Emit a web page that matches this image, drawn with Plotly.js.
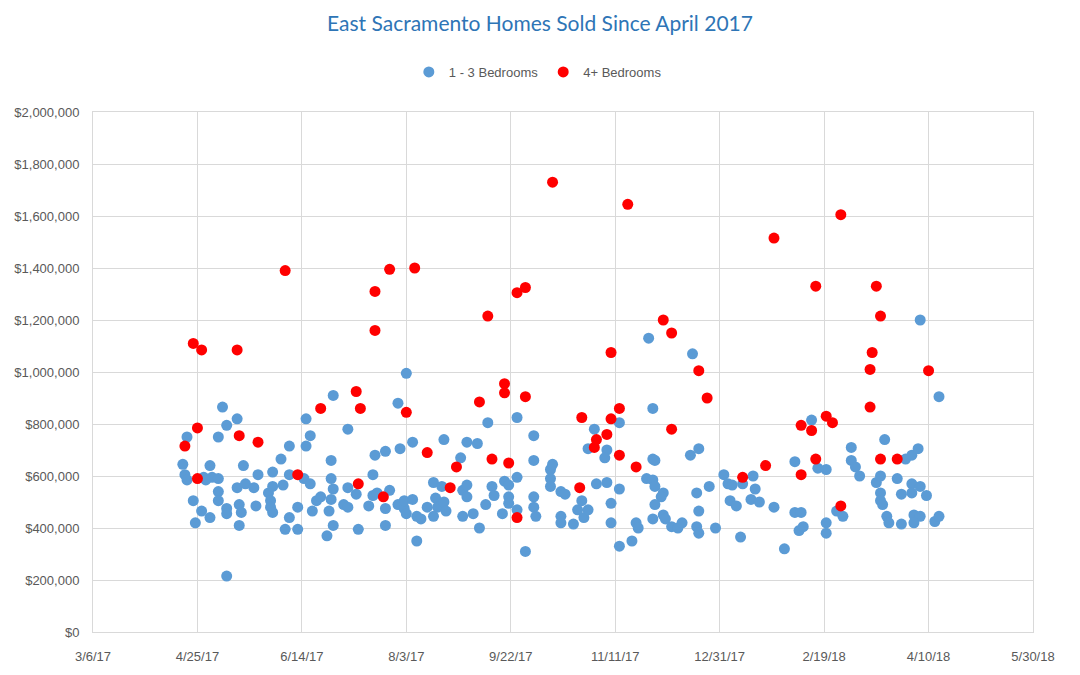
<!DOCTYPE html>
<html>
<head>
<meta charset="utf-8">
<script src="https://cdn.plot.ly/plotly-3.0.1.min.js"></script>
<style>
  html, body { margin: 0; padding: 0; background: #ffffff; }
  #chart { width: 1080px; height: 675px; }
</style>
</head>
<body>
<div id="chart"></div>
<script>
// ---- Data ----
const seriesNames = ["1 - 3 Bedrooms", "4+ Bedrooms"];

const smallDates = [
'2017-04-18','2017-04-19','2017-04-20','2017-04-20','2017-04-23','2017-04-24','2017-04-27','2017-04-28','2017-04-29','2017-05-01',
'2017-05-01','2017-05-02','2017-05-05','2017-05-05','2017-05-05','2017-05-05','2017-05-07','2017-05-09','2017-05-09','2017-05-09',
'2017-05-09','2017-05-14','2017-05-14','2017-05-15','2017-05-15','2017-05-16','2017-05-17','2017-05-18','2017-05-22','2017-05-23',
'2017-05-24','2017-05-29','2017-05-30','2017-05-30','2017-05-31','2017-05-31','2017-05-31','2017-06-04','2017-06-05','2017-06-06',
'2017-06-08','2017-06-08','2017-06-08','2017-06-12','2017-06-12','2017-06-15','2017-06-16','2017-06-16','2017-06-18','2017-06-18',
'2017-06-19','2017-06-21','2017-06-23','2017-06-27','2017-06-26','2017-06-28','2017-06-28','2017-06-29','2017-06-29','2017-06-28',
'2017-06-29','2017-07-04','2017-07-06','2017-07-06','2017-07-06','2017-07-10','2017-07-11','2017-07-16','2017-07-18','2017-07-18',
'2017-07-19','2017-07-20','2017-07-24','2017-07-24','2017-07-24','2017-07-26','2017-07-30','2017-07-30','2017-07-31','2017-08-02',
'2017-08-02','2017-08-03','2017-08-03','2017-08-06','2017-08-06','2017-08-08','2017-08-08','2017-08-10','2017-08-13','2017-08-16',
'2017-08-16','2017-08-17','2017-08-18','2017-08-20','2017-08-21','2017-08-21','2017-08-22','2017-08-29','2017-08-30','2017-08-30',
'2017-09-01','2017-09-01','2017-09-01','2017-09-04','2017-09-06','2017-09-07','2017-09-10','2017-09-11','2017-09-13','2017-09-14',
'2017-09-18','2017-09-19','2017-09-21','2017-09-21','2017-09-21','2017-09-25','2017-09-25','2017-09-25','2017-09-29','2017-10-03',
'2017-10-03','2017-10-03','2017-10-03','2017-10-04','2017-10-11','2017-10-12','2017-10-11','2017-10-11','2017-10-16','2017-10-18',
'2017-10-16','2017-10-16','2017-10-22','2017-10-24','2017-10-26','2017-10-27','2017-10-29','2017-10-29','2017-11-01','2017-11-02',
'2017-11-07','2017-11-07','2017-11-06','2017-11-09','2017-11-09','2017-11-13','2017-11-13','2017-11-13','2017-11-19','2017-11-21',
'2017-11-22','2017-11-26','2017-11-27','2017-11-29','2017-11-29','2017-11-29','2017-11-29','2017-11-30','2017-11-30','2017-12-04',
'2017-12-03','2017-11-30','2017-12-04','2017-12-05','2017-12-08','2017-12-11','2017-12-13','2017-12-17','2017-12-21','2017-12-18',
'2017-12-20','2017-12-20','2017-12-21','2017-12-21','2017-12-26','2017-12-29','2018-01-02','2018-01-04','2018-01-06','2018-01-05',
'2018-01-08','2018-01-10','2018-01-11','2018-01-16','2018-01-15','2018-01-17','2018-01-19','2018-01-26','2018-01-31','2018-02-05',
'2018-02-05','2018-02-08','2018-02-07','2018-02-09','2018-02-13','2018-02-16','2018-02-20','2018-02-20','2018-02-20','2018-02-25',
'2018-02-28','2018-03-04','2018-03-04','2018-03-06','2018-03-08','2018-03-16','2018-03-18','2018-03-18','2018-03-18','2018-03-19',
'2018-03-20','2018-03-21','2018-03-22','2018-03-26','2018-03-28','2018-03-28','2018-03-30','2018-04-02','2018-04-05','2018-04-02',
'2018-04-02','2018-04-06','2018-04-03','2018-04-06','2018-04-03','2018-04-06','2018-04-09','2018-04-13','2018-04-15','2018-04-15'
];
const smallPrices = [
645000,605000,585000,750000,505000,420000,465000,595000,585000,640000,
440000,595000,590000,750000,540000,505000,865000,795000,475000,455000,
215000,820000,555000,490000,410000,460000,640000,570000,555000,485000,
605000,535000,505000,480000,460000,615000,560000,665000,565000,395000,
715000,440000,605000,480000,395000,590000,820000,715000,755000,570000,
465000,505000,520000,465000,370000,590000,660000,910000,550000,510000,
410000,490000,480000,780000,555000,530000,395000,485000,605000,525000,
680000,535000,695000,475000,410000,545000,490000,880000,705000,475000,
505000,995000,455000,510000,730000,350000,445000,435000,480000,575000,
445000,515000,480000,560000,740000,500000,465000,670000,545000,445000,
730000,565000,520000,455000,725000,400000,490000,805000,560000,525000,
455000,580000,565000,520000,495000,825000,595000,470000,310000,755000,
660000,520000,480000,445000,625000,645000,590000,560000,540000,530000,
445000,420000,415000,470000,505000,440000,470000,705000,780000,570000,
575000,700000,670000,495000,420000,805000,550000,330000,350000,420000,
400000,590000,1130000,585000,435000,860000,665000,660000,560000,535000,
520000,490000,450000,435000,405000,400000,420000,680000,705000,1070000,
535000,405000,380000,465000,560000,400000,605000,570000,565000,505000,
485000,365000,570000,600000,510000,550000,500000,480000,320000,655000,
460000,460000,390000,405000,815000,630000,625000,420000,380000,465000,
445000,710000,660000,635000,600000,575000,600000,535000,505000,490000,
740000,445000,420000,590000,530000,415000,665000,680000,705000,570000,
535000,560000,450000,445000,420000,1200000,525000,425000,445000,905000
];

const largeDates = [
'2017-04-19','2017-04-23','2017-04-25','2017-04-25','2017-04-27','2017-05-14','2017-05-15','2017-05-24','2017-06-06','2017-06-12',
'2017-06-23','2017-07-10','2017-07-12','2017-07-11','2017-07-19','2017-07-19','2017-07-23','2017-07-26','2017-08-07','2017-08-03',
'2017-08-13','2017-08-24','2017-08-27','2017-09-07','2017-09-11','2017-09-13','2017-09-19','2017-09-19','2017-09-21','2017-09-25',
'2017-09-25','2017-09-29','2017-09-29','2017-10-12','2017-10-25','2017-10-26','2017-11-01','2017-11-02','2017-11-07','2017-11-09',
'2017-11-09','2017-11-13','2017-11-13','2017-11-17','2017-11-21','2017-12-04','2017-12-08','2017-12-08','2017-12-21','2017-12-25',
'2018-01-11','2018-01-22','2018-01-26','2018-02-08','2018-02-08','2018-02-13','2018-02-15','2018-02-15','2018-02-20','2018-02-23',
'2018-02-27','2018-02-27','2018-03-13','2018-03-13','2018-03-14','2018-03-16','2018-03-18','2018-03-18','2018-03-26','2018-04-10'
];
const largePrices = [
715000,1110000,785000,590000,1085000,1085000,755000,730000,1390000,605000,
860000,925000,860000,570000,1310000,1160000,520000,1395000,1400000,845000,
690000,555000,635000,885000,1215000,665000,955000,920000,650000,440000,
1305000,1325000,905000,1730000,555000,825000,710000,740000,760000,1075000,
820000,860000,680000,1645000,635000,1200000,1150000,780000,1005000,900000,
595000,640000,1515000,605000,795000,775000,1330000,665000,830000,805000,
1605000,485000,865000,1010000,1075000,1330000,1215000,665000,665000,1005000
];

const xTickVals = ['2017-03-06','2017-04-25','2017-06-14','2017-08-03','2017-09-22','2017-11-11','2017-12-31','2018-02-19','2018-04-10','2018-05-30'];
const xTickText = ['3/6/17','4/25/17','6/14/17','8/3/17','9/22/17','11/11/17','12/31/17','2/19/18','4/10/18','5/30/18'];

// ---- Chart ----
const tickFont = { family: 'Liberation Sans Narrow, Arial Narrow, Liberation Sans, Arial, sans-serif', size: 13, color: '#595959' };

const traces = [
  {
    type: 'scatter', mode: 'markers', name: seriesNames[0],
    x: smallDates, y: smallPrices,
    marker: { color: '#5b9bd5', size: 11, line: { width: 0 } },
    hoverinfo: 'skip'
  },
  {
    type: 'scatter', mode: 'markers', name: seriesNames[1],
    x: largeDates, y: largePrices,
    marker: { color: '#ff0000', size: 11, line: { width: 0 } },
    hoverinfo: 'skip'
  }
];

const layout = {
  width: 1080, height: 675,
  paper_bgcolor: '#ffffff', plot_bgcolor: '#ffffff',
  margin: { l: 93, r: 47, t: 112, b: 43, autoexpand: false },
  title: {
    text: 'East Sacramento Homes Sold Since April 2017',
    font: { family: 'Lato, Open Sans, sans-serif', size: 21, color: '#2e75b6' },
    x: 0.5, xref: 'container', xanchor: 'center',
    y: 1 - 24 / 675, yref: 'container', yanchor: 'middle'
  },
  showlegend: true,
  legend: {
    orientation: 'h', xref: 'container', x: 0.498, xanchor: 'center',
    yref: 'container', y: 1 - 72 / 675, yanchor: 'middle',
    font: { family: 'Liberation Sans Narrow, Arial Narrow, Liberation Sans, Arial, sans-serif', size: 13, color: '#595959' },
    itemwidth: 30, tracegroupgap: 0
  },
  xaxis: {
    type: 'date',
    range: ['2017-03-06', '2018-05-30'],
    tickmode: 'array', tickvals: xTickVals, ticktext: xTickText,
    showgrid: true, gridcolor: '#d9d9d9', gridwidth: 1,
    showline: true, linecolor: '#d9d9d9', linewidth: 1, mirror: true,
    ticks: '', ticklabelstandoff: 12,
    tickfont: tickFont, zeroline: false
  },
  yaxis: {
    range: [0, 2000000],
    tickmode: 'linear', tick0: 0, dtick: 200000,
    tickprefix: '$', tickformat: ',d',
    showgrid: true, gridcolor: '#d9d9d9', gridwidth: 1,
    showline: true, linecolor: '#d9d9d9', linewidth: 1, mirror: true,
    ticks: '', ticklabelstandoff: 10,
    tickfont: tickFont, zeroline: false
  }
};

Plotly.newPlot('chart', traces, layout, { staticPlot: true, displayModeBar: false });
</script>
</body>
</html>
